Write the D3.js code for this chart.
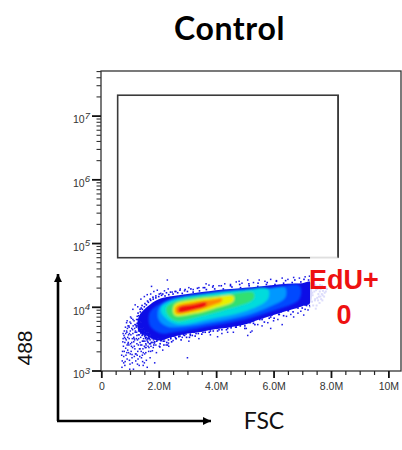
<!DOCTYPE html>
<html><head><meta charset="utf-8">
<script src="https://cdn.jsdelivr.net/npm/d3@7"></script>
<style>html,body{margin:0;background:#fff}svg{display:block}</style></head>
<body><svg id="c" width="402" height="450"></svg>
<script>
const title = "Control", xLabel = "FSC", yLabel = "488", gateName = "EdU+", gateCount = "0";
const xMajor = [0, 2, 4, 6, 8, 10];
const xMajorLabels = ["0", "2.0M", "4.0M", "6.0M", "8.0M", "10M"];
const xMinor = [0.5,1,1.5,2.5,3,3.5,4.5,5,5.5,6.5,7,7.5,8.5,9,9.5,10.5];
const yMajor = [3, 4, 5, 6, 7];
const yMinorFactors = [2,3,4,5,6,7,8,9];
const gateX = [0.57, 8.25];
const gateY = [4.77, 7.32];

// density levels: FSC in millions, 488 as log10
const levelColors = ["#0a0ae6","#0048ff","#0098ff","#00dcdc","#30e070","#e8f000","#ff8a00","#f01010"];
const l0x = [1.3,1.6,2,2.5,3,3.5,4,4.5,5,5.5,6,6.5,7,7.28];
const l0hi = [3.84,4.0,4.12,4.17,4.2,4.23,4.26,4.28,4.3,4.32,4.34,4.36,4.37,4.39];
const l0lo = [3.62,3.54,3.47,3.53,3.58,3.61,3.65,3.68,3.72,3.8,3.87,3.94,4.01,4.06];
const l1x = [1.7,2.1,2.5,3.8,5,6.0,6.9];
const l1hi = [3.92,4.06,4.13,4.2,4.265,4.3,4.33];
const l1lo = [3.7,3.58,3.6,3.7,3.8,3.94,4.12];
const l2x = [2.0,2.3,2.9,3.9,5,5.8,6.4];
const l2hi = [3.97,4.09,4.16,4.225,4.27,4.29,4.3];
const l2lo = [3.8,3.69,3.69,3.76,3.86,3.99,4.14];
const l3x = [2.1,2.6,3.8,4.95,5.8];
const l3hi = [4.0,4.12,4.21,4.26,4.28];
const l3lo = [3.9,3.73,3.81,3.92,4.12];
const l4x = [2.28,2.6,3.44,4.37,5.3];
const l4hi = [3.995,4.085,4.16,4.19,4.22];
const l4lo = [3.9,3.78,3.85,3.96,4.12];
const l5x = [2.55,3.2,3.9,4.6];
const l5hi = [4.03,4.11,4.15,4.17];
const l5lo = [3.87,3.89,3.97,4.085];
const l6x = [2.6,3.2,3.8,4.2];
const l6hi = [3.995,4.07,4.11,4.13];
const l6lo = [3.9,3.93,4.01,4.085];
const l7x = [2.7,3.2,3.65];
const l7hi = [3.99,4.035,4.07];
const l7lo = [3.915,3.95,4.015];

// sparse events
const dotX = [0.72,0.75,0.78,0.8,0.82,0.85,0.88,0.9,0.92,0.95,0.97,1.0,1.02,1.05,1.07,1.1,1.12,1.15,1.17,1.2,1.22,1.25,1.27,1.3,1.32,1.35,1.38,1.4,1.42,1.45,1.48,1.5,1.52,1.55,1.58,1.6,1.63,1.66,1.7,1.74,1.78,1.82,1.86,1.9,
0.74,0.79,0.83,0.87,0.91,0.96,0.99,1.03,1.08,1.11,1.16,1.19,1.23,1.26,1.31,1.34,1.37,1.41,1.44,1.47,1.51,1.54,1.57,1.61,1.65,1.69,1.73,1.77,1.81,1.85,
0.76,0.84,0.93,1.01,1.09,1.18,1.28,1.36,1.46,1.56,1.64,1.72,1.8,1.92,1.97,2.02,2.08,2.14,2.2,2.26,2.34,2.42,2.5,2.6,2.7,2.82,2.95,3.1,
1.1,1.18,1.27,1.38,1.5,1.6,1.72,1.83,1.95,2.07,2.2,2.33,2.47,2.6,2.75,2.9,3.05,3.2,3.4,3.55,3.75,3.9,4.1,4.3,4.5,4.7,4.9,5.1,5.3,5.5,5.7,5.9,6.1,6.3,6.5,6.7,6.9,7.1,7.25,
1.75,2.3,3.65,4.8,5.2,5.9,6.3,6.7,7.05,7.2,4.2,4.6,5.05,5.45,5.8,6.15,6.45,6.85,7.1,7.28,3.05,3.4,3.8,4.05,4.4,5.25,5.6,6.0,6.6,6.95,5.1,3.0,2.35];
const dotY = [3.05,3.45,3.22,3.62,3.08,3.35,3.75,3.18,3.52,3.28,3.68,3.1,3.42,3.82,3.25,3.58,3.02,3.38,3.72,3.15,3.5,3.85,3.3,3.62,3.08,3.44,3.76,3.2,3.55,3.34,3.68,3.12,3.46,3.28,3.6,3.05,3.38,3.52,3.2,3.44,3.31,3.48,3.12,3.4,
3.3,3.55,3.14,3.48,3.66,3.4,3.02,3.56,3.12,3.7,3.48,3.26,3.6,3.1,3.78,3.22,3.52,3.4,3.14,3.58,3.26,3.5,3.16,3.46,3.3,3.54,3.38,3.5,3.36,3.43,
3.58,3.5,3.42,3.62,3.36,3.6,3.18,3.66,3.08,3.36,3.5,3.3,3.44,3.28,3.5,3.38,3.47,3.32,3.46,3.4,3.43,3.52,3.47,3.5,3.54,3.52,3.57,3.55,
3.96,4.03,4.0,4.12,4.16,4.19,4.2,4.24,4.26,4.21,4.25,4.28,4.23,4.24,4.28,4.25,4.3,4.27,4.3,4.3,4.34,4.33,4.33,4.36,4.35,4.39,4.37,4.42,4.38,4.42,4.4,4.43,4.41,4.45,4.43,4.46,4.45,4.47,4.48,
4.32,4.42,4.36,4.4,3.6,3.66,3.72,3.84,3.87,3.95,3.58,3.6,3.66,3.72,3.75,3.8,3.85,3.9,3.96,4.0,3.46,3.5,3.56,3.53,3.6,3.62,3.7,3.78,3.88,3.93,3.55,3.2,3.38];

// the denser left-hand tail
const cloudX = [0.73,0.77,0.81,0.86,0.89,0.94,0.98,1.04,1.06,1.13,1.14,1.21,1.24,1.29,1.33,1.39,1.43,1.49,1.53,1.59,
0.71,0.76,0.8,0.85,0.9,0.93,0.97,1.01,1.06,1.1,1.15,1.19,1.24,1.28,1.33,1.38,1.43,1.47,1.52,1.56,1.62,1.68,
0.78,0.82,0.88,0.92,0.98,1.03,1.07,1.13,1.17,1.22,1.26,1.32,1.37,1.41,1.46,1.51,1.55,1.6,1.66,1.72,
0.84,0.89,0.95,1.0,1.05,1.09,1.14,1.2,1.25,1.3,1.35,1.4,1.45,1.5,1.58,1.64,1.7,1.76,
0.9,0.96,1.02,1.08,1.16,1.23,1.29,1.36,1.42,1.48,1.53,1.62];
const cloudY = [3.15,3.38,3.52,3.24,3.6,3.44,3.16,3.3,3.66,3.45,3.78,3.26,3.55,3.4,3.68,3.3,3.46,3.58,3.36,3.48,
3.24,3.5,3.3,3.58,3.4,3.7,3.5,3.26,3.44,3.8,3.22,3.62,3.42,3.7,3.34,3.58,3.24,3.5,3.62,3.4,3.56,3.42,
3.12,3.44,3.62,3.32,3.58,3.74,3.2,3.52,3.34,3.68,3.48,3.56,3.4,3.6,3.28,3.54,3.42,3.5,3.36,3.56,
3.68,3.28,3.56,3.76,3.38,3.64,3.5,3.72,3.24,3.5,3.34,3.62,3.46,3.38,3.52,3.6,3.48,3.44,
3.78,3.7,3.84,3.5,3.66,3.8,3.56,3.72,3.66,3.46,3.56,3.5];

// the dense fringe around the solid population
const fringeX = [1.25,1.3,1.33,1.36,1.4,1.43,1.46,1.5,1.53,1.57,1.6,1.64,1.68,1.72,1.77,1.81,1.86,1.9,1.95,2.0,2.05,2.1,2.16,2.22,2.28,2.35,2.42,2.5,2.58,2.66,2.74,2.82,2.9,3.0,3.1,3.2,3.3,3.42,3.54,3.66,3.8,3.95,4.1,4.25,4.4,4.55,4.7,4.85,5.0,5.15,5.3,5.45,5.6,5.75,5.9,6.05,6.2,6.35,6.5,6.65,6.8,6.95,7.1,7.22,
1.27,1.31,1.35,1.38,1.42,1.47,1.52,1.56,1.61,1.65,1.7,1.75,1.8,1.85,1.9,1.96,2.02,2.08,2.14,2.2,2.27,2.34,2.41,2.49,2.57,2.65,2.74,2.83,2.92,3.02,3.12,3.23,3.35,3.47,3.6,3.74,3.88,4.03,4.18,4.34,4.5,4.66,4.82,4.98,5.14,5.3,5.46,5.62,5.78,5.94,6.1,6.26,6.42,6.58,6.74,6.9,7.06,7.2,
1.22,1.28,1.34,1.39,1.44,1.49,1.54,1.59,1.63,1.67,1.71,1.76,1.83,1.88,1.93,1.98,2.04,2.11,2.18,2.24,2.31,2.38,2.45,2.53,2.61,2.7,2.78,2.87,2.97,3.07,3.17,3.27,3.38,3.5,3.62,3.76,3.9,4.05,4.2,4.36,4.52,4.68,4.84,5.0,5.18,5.35,5.52,5.68,5.85,6.02,6.18,6.35,6.52,6.68,6.85,7.0,7.15,7.26];
const fringeY = [3.74,3.86,3.68,3.92,3.6,3.96,3.7,4.0,3.55,4.03,3.62,4.07,3.5,4.1,3.56,4.12,3.45,4.14,3.48,4.16,3.42,4.18,3.46,4.17,3.44,4.19,3.5,4.2,3.52,4.22,3.54,4.21,3.55,4.24,3.57,4.23,3.58,4.25,3.6,4.27,3.62,4.28,3.64,4.28,3.66,4.31,3.68,4.3,3.7,4.33,3.74,4.32,3.8,4.35,3.84,4.35,3.88,4.37,3.94,4.38,3.99,4.39,4.03,4.42,
3.8,3.64,3.96,3.72,4.02,3.58,4.05,3.65,4.09,3.53,4.12,3.6,4.15,3.5,4.17,3.53,4.2,3.47,4.2,3.5,4.22,3.48,4.23,3.54,4.24,3.57,4.26,3.58,4.27,3.6,4.28,3.6,4.29,3.62,4.3,3.65,4.31,3.66,4.33,3.68,4.33,3.72,4.35,3.75,4.36,3.78,4.37,3.83,4.38,3.87,4.4,3.92,4.41,3.97,4.42,4.02,4.43,4.05,
3.7,3.9,3.62,3.98,3.56,3.76,3.52,3.84,3.44,3.95,3.42,3.76,3.4,3.58,3.46,3.6,3.37,3.56,3.4,3.55,3.4,3.58,3.45,3.54,3.5,3.53,3.48,3.56,3.52,3.52,3.55,3.54,3.58,3.57,3.6,3.6,3.62,3.62,3.64,3.64,3.67,3.68,3.7,3.66,3.75,3.72,3.8,3.76,3.82,3.82,3.88,3.86,3.94,3.92,3.98,3.98,4.02,4.02];

// events washed out under the label box
const fadedX = [7.32,7.36,7.4,7.44,7.48,7.5,7.54,7.58,7.6,7.64,7.68,7.7,7.74,7.78,7.82,7.86,7.34,7.42,7.46,7.52,7.56,7.62,7.66,7.72,7.76,7.8,7.38,7.47,7.55,7.63,7.71,7.35,7.45,7.53,7.61,7.69];
const fadedY = [4.3,4.18,4.36,4.1,4.26,4.02,4.32,4.16,4.06,4.28,4.2,4.1,4.3,4.22,4.24,4.28,4.08,4.24,4.34,4.14,4.2,4.34,4.12,4.25,4.16,4.31,4.02,3.97,4.1,4.16,4.18,4.22,4.12,4.28,4.24,4.33];

const g = { left: 101, right: 401, top: 71, bottom: 371 };
const svg = d3.select("#c");
const x = d3.scaleLinear().domain([0, 10]).range([101.3, 388.4]);
const y = d3.scaleLog().domain([1e3, Math.pow(10, 7.7)]).range([370.5, 71]);
const Y = e => y(Math.pow(10, e));

const defs = svg.append("defs");
defs.append("filter").attr("id","soft").append("feGaussianBlur").attr("stdDeviation",1.3);
defs.append("filter").attr("id","soft2").append("feGaussianBlur").attr("stdDeviation",0.3);
const mk = defs.append("marker").attr("id","ah").attr("markerUnits","userSpaceOnUse").attr("markerWidth",10).attr("markerHeight",10)
  .attr("refX",8).attr("refY",4).attr("orient","auto");
mk.append("path").attr("d","M0,0L8,4L0,8Z").attr("fill","#000");

// frame
svg.append("rect").attr("x",g.left).attr("y",g.top).attr("width",g.right-g.left).attr("height",g.bottom-g.top)
  .attr("fill","#fff").attr("stroke","#333").attr("stroke-width",1.3);

// gate
svg.append("rect").attr("x",x(gateX[0])).attr("y",Y(gateY[1])).attr("width",x(gateX[1])-x(gateX[0])).attr("height",Y(gateY[0])-Y(gateY[1]))
  .attr("fill","none").attr("stroke","#3a3a3a").attr("stroke-width",1.6);

// density
const levels = [[l0x,l0hi,l0lo],[l1x,l1hi,l1lo],[l2x,l2hi,l2lo],[l3x,l3hi,l3lo],[l4x,l4hi,l4lo],[l5x,l5hi,l5lo],[l6x,l6hi,l6lo],[l7x,l7hi,l7lo]];
const outline = d3.line().x(d=>x(d[0])).y(d=>Y(d[1])).curve(d3.curveCatmullRomClosed);
const dens = svg.append("g").attr("filter","url(#soft2)");
const denseG = svg.append("g").attr("filter","url(#soft)");
levels.forEach((l,i)=>{
  const pts = l[0].map((v,k)=>[v,l[1][k]]).concat(l[0].map((v,k)=>[v,l[2][k]]).reverse());
  (i===0?dens:denseG).append("path").attr("d",outline(pts)).attr("fill",levelColors[i]);
});
const dots = (xs,ys,s,c)=>xs.forEach((v,i)=>dens.append("rect").attr("x",x(v)-s/2).attr("y",Y(ys[i])-s/2).attr("width",s).attr("height",s).attr("fill",c));
dots(dotX,dotY,1.5,"#1a1ae6");
dots(cloudX,cloudY,1.5,"#1a1ae6");
dots(fringeX,fringeY,1.6,"#0a0ae6");
dots(fadedX,fadedY,2,"#2a2ae6");

// white label box that washes out the events beneath it
svg.append("rect").attr("x",x(7.27)).attr("y",256.6).attr("width",74).attr("height",72).attr("fill","#fff").attr("opacity",0.84);
svg.append("line").attr("x1",x(gateX[1])).attr("x2",x(gateX[1])).attr("y1",Y(gateY[1])).attr("y2",Y(gateY[0])).attr("stroke","#3a3a3a").attr("stroke-width",1.6);

// axes
const font = "'Liberation Sans',Arial,sans-serif";
const xa = svg.append("g").attr("transform",`translate(0,${g.bottom})`)
  .call(d3.axisBottom(x).tickValues(xMajor).tickSize(7).tickPadding(5).tickFormat((d,i)=>xMajorLabels[i]));
const xm = svg.append("g").attr("transform",`translate(0,${g.bottom})`)
  .call(d3.axisBottom(x).tickValues(xMinor).tickSize(4).tickFormat(""));
xm.selectAll("line").attr("stroke","#222").attr("stroke-width",1.2);
xa.selectAll("line").attr("stroke","#111").attr("stroke-width",1.8);
xa.selectAll("text").attr("font-family",font).attr("font-size",10.5).attr("fill","#333");
const yvals = yMajor.map(e=>Math.pow(10,e));
const ya = svg.append("g").attr("transform",`translate(${g.left},0)`)
  .call(d3.axisLeft(y).tickValues(yvals).tickSize(9).tickFormat(""));
ya.selectAll("line").attr("stroke","#111").attr("stroke-width",1.8);
ya.selectAll(".tick").each(function(d){
  const t = d3.select(this).append("text").attr("x",-11).attr("dy","0.7em").attr("text-anchor","end")
    .attr("font-family",font).attr("font-size",10.5).attr("fill","#333");
  t.append("tspan").text("10");
  t.append("tspan").attr("dy","-0.5em").attr("font-size",9.5).attr("font-style","italic").text(Math.round(Math.log10(d)));
});
const yminor = [];
yMajor.forEach(e=>yMinorFactors.forEach(f=>{const v=f*Math.pow(10,e); if(v<Math.pow(10,7.7)) yminor.push(v);}));
const ym = svg.append("g").attr("transform",`translate(${g.left},0)`)
  .call(d3.axisLeft(y).tickValues(yminor).tickSize(4.5).tickFormat(""));
ym.selectAll("line").attr("stroke","#333").attr("stroke-width",1.1);
svg.selectAll(".domain").attr("stroke","none");

// hand-drawn axis arrows
svg.append("path").attr("d","M58,421L58,274").attr("stroke","#000").attr("stroke-width",2.6).attr("fill","none").attr("marker-end","url(#ah)");
svg.append("path").attr("d","M57,421L211,421").attr("stroke","#000").attr("stroke-width",2.6).attr("fill","none").attr("marker-end","url(#ah)");

const gf = "Lato,'Open Sans',sans-serif";
svg.append("text").attr("x",229.5).attr("y",40).attr("text-anchor","middle").attr("font-family",gf).attr("font-weight",700).attr("font-size",32).attr("letter-spacing",0.6).attr("fill","#000").text(title);
svg.append("text").attr("x",264).attr("y",429).attr("text-anchor","middle").attr("font-family",gf).attr("font-size",23).attr("fill","#111").text(xLabel);
svg.append("text").attr("transform","translate(32,348) rotate(-90)").attr("text-anchor","middle").attr("font-family",font).attr("font-size",21).attr("fill","#111").text(yLabel);
svg.append("text").attr("x",344).attr("y",289).attr("text-anchor","middle").attr("font-family",font).attr("font-weight",700).attr("font-size",27).attr("fill","#ee1111").text(gateName);
svg.append("text").attr("x",344).attr("y",324).attr("text-anchor","middle").attr("font-family",font).attr("font-weight",700).attr("font-size",27).attr("fill","#ee1111").text(gateCount);
</script></body></html>
